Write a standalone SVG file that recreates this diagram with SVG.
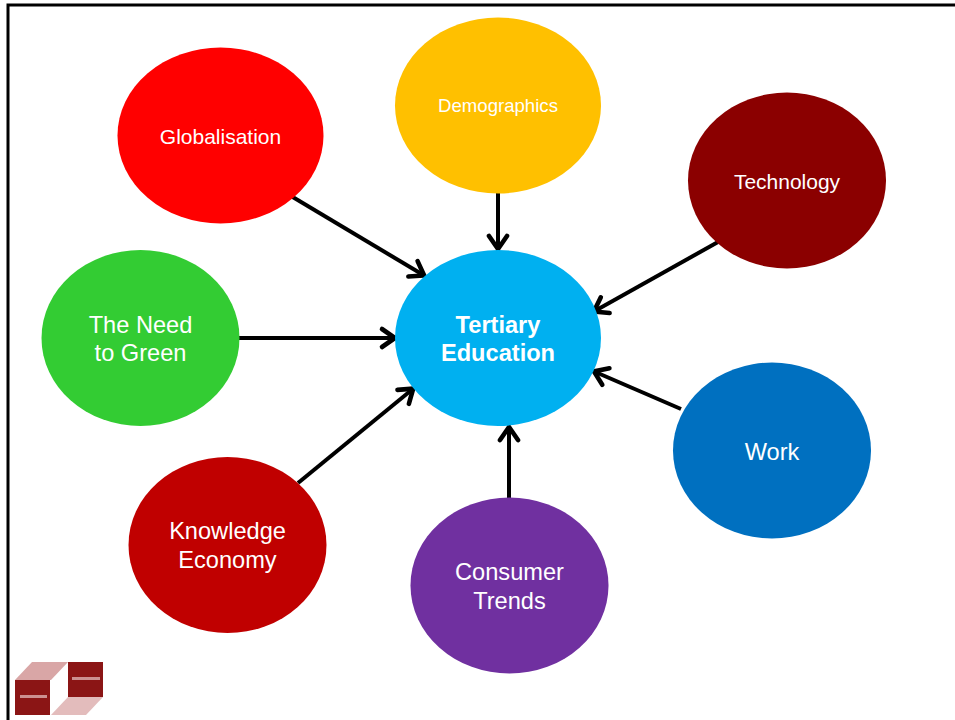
<svg xmlns="http://www.w3.org/2000/svg" width="955" height="720" viewBox="0 0 955 720">
<style>
text{font-family:"Liberation Sans",Arial,sans-serif;fill:#fff;text-anchor:middle}
.l{font-size:23.6px}
.s{font-size:21px}
.m{font-size:21px}
.c line{stroke:#000;stroke-width:4;fill:none;marker-end:url(#a)}
</style>
<defs>
<marker id="a" markerUnits="userSpaceOnUse" markerWidth="24" markerHeight="24" refX="20" refY="10" orient="auto" overflow="visible">
<path d="M6 1L19 10L6 19" fill="none" stroke="#000" stroke-width="4.600" stroke-linecap="round" stroke-linejoin="miter"/>
</marker>
</defs>
<rect width="955" height="720" fill="#fff"/>
<path d="M955 5H8V720" fill="none" stroke="#000" stroke-width="3"/>
<g id="connectors" class="c">
<line x1="291" y1="196" x2="425" y2="276"/>
<line x1="498" y1="192" x2="498" y2="250"/>
<line x1="718" y1="242" x2="593" y2="312"/>
<line x1="238" y1="338" x2="396" y2="338"/>
<line x1="298" y1="483" x2="414" y2="388"/>
<line x1="509" y1="499" x2="509" y2="426"/>
<line x1="681" y1="409" x2="593" y2="371"/>
</g>
<g id="center"><ellipse cx="498" cy="338" rx="103" ry="88" fill="#00b0f0"/><text class="l" font-weight="bold" x="498" y="333">Tertiary</text><text class="l" font-weight="bold" x="498" y="361">Education</text></g>
<g id="globalisation"><ellipse cx="220.500" cy="135.500" rx="103" ry="88" fill="#ff0000"/><text class="m" x="220.500" y="144">Globalisation</text></g>
<g id="demographics"><ellipse cx="498" cy="105.500" rx="103" ry="88" fill="#ffc000"/><text x="498" y="112" font-size="18.600px">Demographics</text></g>
<g id="technology"><ellipse cx="787" cy="180.500" rx="99" ry="88" fill="#8b0000"/><text class="s" x="787" y="189">Technology</text></g>
<g id="green"><ellipse cx="140.500" cy="338" rx="99" ry="88" fill="#33cc33"/><text class="l" x="140.500" y="333">The Need</text><text class="l" x="140.500" y="361">to Green</text></g>
<g id="work"><ellipse cx="772" cy="450.500" rx="99" ry="88" fill="#0070c0"/><text class="l" x="772" y="460">Work</text></g>
<g id="knowledge"><ellipse cx="227.500" cy="545" rx="99" ry="88" fill="#c00000"/><text class="l" x="227.500" y="539">Knowledge</text><text class="l" x="227.500" y="568">Economy</text></g>
<g id="consumer"><ellipse cx="509.500" cy="585.500" rx="99" ry="88" fill="#7030a0"/><text class="l" x="509.500" y="580">Consumer</text><text class="l" x="509.500" y="609">Trends</text></g>
<g id="logo">
<polygon points="15,680 32,662 68,662 51,680" fill="#d9a6a6"/>
<polygon points="51,715 68,697 103,697 86,715" fill="#e3bcbc"/>
<rect x="15" y="680" width="35" height="35" fill="#8b1515"/>
<rect x="68" y="662" width="35" height="35" fill="#8b1515"/>
<rect x="20" y="695" width="27" height="3" fill="#e8c4c4" opacity=".7"/>
<rect x="72" y="677" width="28" height="3" fill="#e8c4c4" opacity=".7"/>
</g>
</svg>
